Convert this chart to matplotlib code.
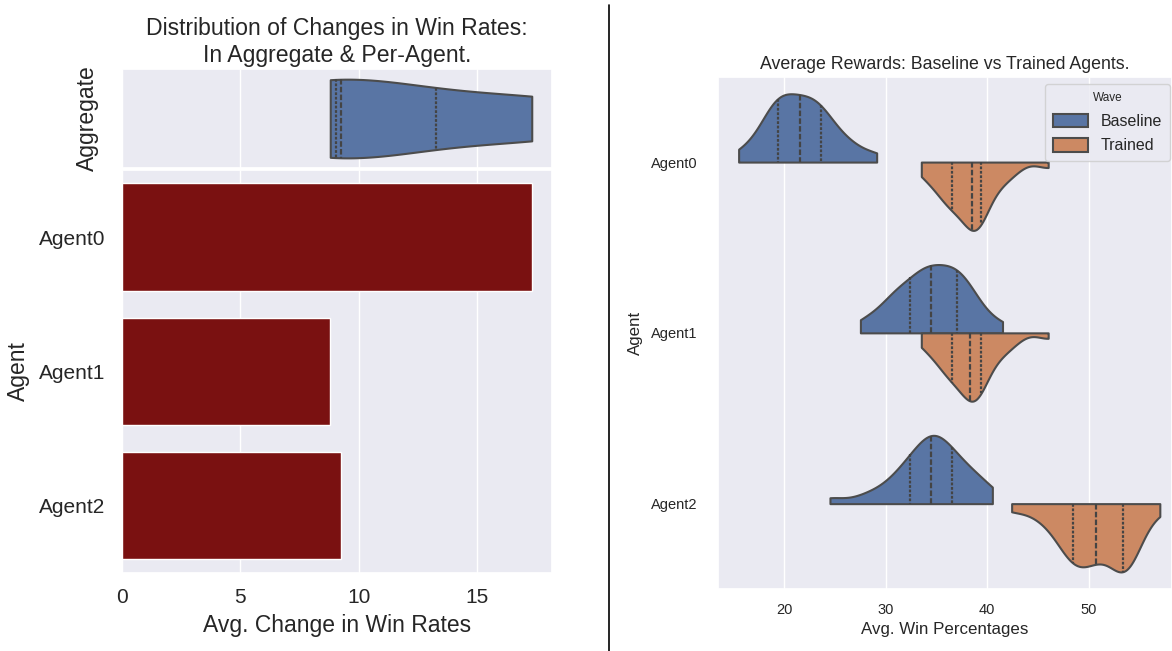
import matplotlib
matplotlib.use("Agg")
import matplotlib.pyplot as plt
from matplotlib.lines import Line2D
import seaborn as sns
import pandas as pd

agents = ["Agent0", "Agent1", "Agent2"]
waves = ["Baseline", "Trained"]

# avg change in win rate per agent (left panel)
win_rate_change = [17.3, 8.8, 9.25]

# avg win percentages per evaluation run (right panel)
baseline_agent0 = [15.5, 16.9, 17.7, 18.2, 18.6, 18.95, 19.2, 19.35, 19.65, 19.95,
                   20.25, 20.55, 20.85, 21.15, 21.5, 21.8, 22.1, 22.4, 22.7, 23.0,
                   23.3, 23.6, 23.9, 24.3, 24.8, 25.4, 26.2, 27.2, 29.1]
trained_agent0 = [33.5, 34.2, 34.9, 35.4, 35.8, 36.1, 36.3, 36.5, 36.9, 37.2,
                  37.5, 37.8, 38.0, 38.25, 38.5, 38.65, 38.8, 38.9, 39.05, 39.2,
                  39.3, 39.4, 39.75, 40.2, 40.7, 41.25, 41.85, 42.7, 46.0]
baseline_agent1 = [27.5, 28.8, 29.9, 30.6, 30.95, 31.3, 31.8, 32.4, 32.76, 33.15,
                   33.51, 33.84, 34.1, 34.3, 34.5, 35.1, 35.41, 35.72, 36.02, 36.34,
                   36.67, 37.0, 37.3, 37.6, 37.95, 38.35, 38.9, 39.7, 41.5]
trained_agent1 = [33.5, 34.2, 34.9, 35.4, 35.8, 36.1, 36.3, 36.5, 36.9, 37.2,
                  37.5, 37.8, 38.0, 38.15, 38.3, 38.5, 38.7, 38.85, 39.0, 39.15,
                  39.3, 39.4, 39.75, 40.2, 40.7, 41.25, 41.85, 42.7, 46.0]
baseline_agent2 = [24.5, 27.8, 29.4, 30.4, 31.2, 31.8, 32.1, 32.4, 32.9, 33.3,
                   33.7, 34.0, 34.2, 34.35, 34.5, 34.75, 35.0, 35.3, 35.6, 35.9,
                   36.2, 36.5, 36.9, 37.3, 37.8, 38.3, 38.9, 39.6, 40.5]
trained_agent2 = [42.4, 44.8, 46.0, 46.9, 47.5, 47.9, 48.2, 48.4, 48.7, 49.05,
                  49.4, 49.75, 50.05, 50.4, 50.7, 51.15, 51.65, 52.2, 52.65, 53.0,
                  53.25, 53.4, 53.55, 53.75, 54.0, 54.25, 54.6, 55.0, 57.0]


def buildFrame():
    runs = {
        ("Agent0", "Baseline"): baseline_agent0,
        ("Agent0", "Trained"): trained_agent0,
        ("Agent1", "Baseline"): baseline_agent1,
        ("Agent1", "Trained"): trained_agent1,
        ("Agent2", "Baseline"): baseline_agent2,
        ("Agent2", "Trained"): trained_agent2,
    }
    rows = []
    for (agent, wave), vals in runs.items():
        for v in vals:
            rows.append({"Agent": agent, "Wave": wave, "Win": v})
    return pd.DataFrame(rows)


def main():
    sns.set_theme(style="darkgrid")
    plt.rcParams['font.family'] = ['Liberation Sans', 'DejaVu Sans']

    fig = plt.figure(figsize=(11.72, 6.51), dpi=100)
    ax_top = fig.add_axes([0.1038, 0.7424, 0.3674, 0.1511])
    ax_bar = fig.add_axes([0.1038, 0.1201, 0.3674, 0.6188], sharex=ax_top)
    ax_r = fig.add_axes([0.6129, 0.0952, 0.3871, 0.787])

    inner_style = {"linewidth": 1.6, "color": "#444444"}

    # ---- left: aggregate violin + per agent bars
    sns.violinplot(x=win_rate_change, ax=ax_top, inner="quart", cut=0,
                   linewidth=1.5, inner_kws=inner_style,
                   color=sns.color_palette("deep")[0])
    ax_top.set_yticks([])
    ax_top.set_xlabel("")
    ax_top.set_ylabel("Aggregate", fontsize=16.5, labelpad=16.3)
    ax_top.tick_params(labelbottom=False, length=0)
    ax_top.set_title("Distribution of Changes in Win Rates:\nIn Aggregate & Per-Agent.",
                     fontsize=16.6, pad=5.5)

    sns.barplot(x=win_rate_change, y=agents, color="darkred", ax=ax_bar)
    ax_bar.set_xlabel("Avg. Change in Win Rates", fontsize=16.5, labelpad=5)
    ax_bar.set_ylabel("Agent", fontsize=16.5, labelpad=6.4)
    ax_bar.tick_params(axis='y', labelsize=15, pad=12, length=0)
    ax_bar.tick_params(axis='x', labelsize=15, pad=11, length=0)
    ax_bar.set_xticks([0, 5, 10, 15])

    # ---- right: split violins baseline vs trained
    df = buildFrame()
    sns.violinplot(data=df, x="Win", y="Agent", hue="Wave", hue_order=waves,
                   order=agents, split=True, inner="quart", cut=0,
                   density_norm="width", bw_adjust=0.8, linewidth=1.5,
                   inner_kws=inner_style, ax=ax_r)
    ax_r.set_xlim(13.5, 58.2)
    ax_r.set_xticks([20, 30, 40, 50])
    ax_r.set_title("Average Rewards: Baseline vs Trained Agents.", fontsize=12.8, pad=5.6)
    ax_r.set_xlabel("Avg. Win Percentages", fontsize=12.2)
    ax_r.set_ylabel("Agent", fontsize=12.2, labelpad=5.4)
    ax_r.tick_params(axis='y', labelsize=10.5, pad=15, length=0)
    ax_r.tick_params(axis='x', labelsize=10.5, pad=10, length=0)
    sns.move_legend(ax_r, "upper right", bbox_to_anchor=(1170 / 1172, 1 - 84 / 651),
                    bbox_transform=fig.transFigure, borderaxespad=0,
                    fontsize=11.5, title_fontsize=8.5, frameon=True,
                    handlelength=2.2, handleheight=0.9, labelspacing=0.6,
                    borderpad=0.5)

    # divider between the two panels
    fig.add_artist(Line2D([609 / 1172, 609 / 1172], [0, 1 - 5 / 651],
                          color="black", lw=1.2, transform=fig.transFigure))

    fig.savefig("out.png", dpi=100)


if __name__ == "__main__":
    main()
